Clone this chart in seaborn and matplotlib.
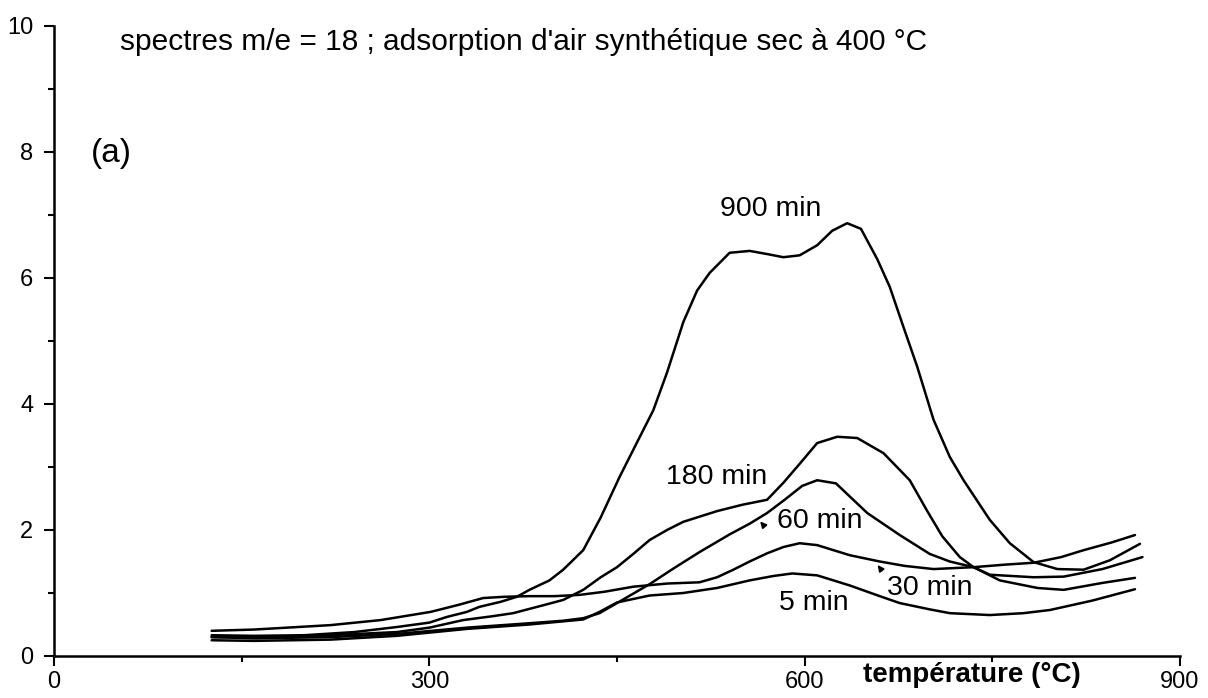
import numpy as np
import pandas as pd
import matplotlib
matplotlib.use('Agg')
import matplotlib.pyplot as plt
from matplotlib.ticker import MultipleLocator
import seaborn as sns

sns.set_theme(style='ticks')
plt.rcParams['font.family'] = ['Liberation Sans', 'DejaVu Sans']
plt.rcParams['text.color'] = 'black'

# spectres m/e = 18 (temperature en °C, signal)
t900 = [126, 160, 200, 240, 274, 300, 314, 330, 340, 357, 370, 380, 396, 407, 423, 437, 452, 467, 479, 490,
        503, 514, 524, 540, 556, 570, 583, 596, 610, 622, 634, 645, 658, 668, 679, 690, 703, 716, 727, 748,
        764, 783, 802, 823, 844, 868]
v900 = [0.33, 0.32, 0.33, 0.38, 0.46, 0.53, 0.62, 0.70, 0.78, 0.86, 0.94, 1.05, 1.2, 1.37, 1.68, 2.2, 2.84, 3.43, 3.9, 4.5,
        5.3, 5.8, 6.08, 6.40, 6.43, 6.38, 6.33, 6.36, 6.52, 6.75, 6.87, 6.78, 6.3, 5.86, 5.22, 4.59, 3.75, 3.16, 2.79, 2.16,
        1.79, 1.49, 1.38, 1.37, 1.52, 1.78]

t180 = [126, 160, 221, 274, 300, 327, 350, 367, 390, 407, 423, 437, 450, 463, 476, 490, 503, 530, 550, 570,
        583, 596, 610, 626, 642, 663, 684, 698, 710, 724, 735, 756, 786, 807, 838, 864]
v180 = [0.30, 0.30, 0.33, 0.38, 0.45, 0.57, 0.63, 0.68, 0.80, 0.89, 1.05, 1.25, 1.41, 1.62, 1.84, 2.0, 2.13, 2.3, 2.4, 2.48,
        2.75, 3.05, 3.38, 3.48, 3.46, 3.22, 2.79, 2.3, 1.9, 1.57, 1.41, 1.2, 1.08, 1.05, 1.16, 1.24]

t60 = [126, 160, 221, 274, 330, 380, 407, 423, 436, 450, 476, 496, 516, 540, 556, 570, 584, 598, 610, 625,
       650, 676, 700, 716, 735, 748, 783, 807, 838, 870]
v60 = [0.30, 0.28, 0.30, 0.35, 0.45, 0.52, 0.56, 0.60, 0.68, 0.84, 1.14, 1.4, 1.65, 1.93, 2.1, 2.27, 2.48, 2.7, 2.79, 2.74,
       2.27, 1.92, 1.62, 1.5, 1.41, 1.29, 1.25, 1.26, 1.38, 1.57]

t30 = [126, 160, 221, 261, 301, 323, 343, 360, 380, 400, 420, 440, 463, 490, 516, 530, 543, 556, 570, 583,
       596, 610, 636, 660, 680, 703, 735, 760, 783, 805, 823, 845, 864]
v30 = [0.40, 0.42, 0.49, 0.57, 0.70, 0.81, 0.92, 0.94, 0.95, 0.95, 0.97, 1.02, 1.1, 1.15, 1.17, 1.25, 1.37, 1.5, 1.63, 1.73,
       1.79, 1.76, 1.6, 1.5, 1.43, 1.38, 1.41, 1.45, 1.48, 1.57, 1.68, 1.8, 1.92]

t5 = [126, 160, 221, 274, 330, 380, 423, 436, 450, 476, 503, 530, 556, 575, 590, 610, 636, 660, 676, 700,
      716, 748, 775, 796, 830, 864]
v5 = [0.25, 0.24, 0.26, 0.32, 0.43, 0.50, 0.58, 0.70, 0.85, 0.96, 1.0, 1.08, 1.2, 1.27, 1.31, 1.28, 1.12, 0.95, 0.84, 0.74,
      0.68, 0.65, 0.68, 0.73, 0.88, 1.06]

courbes = {'900 min': (t900, v900), '180 min': (t180, v180), '60 min': (t60, v60),
           '30 min': (t30, v30), '5 min': (t5, v5)}

# labels des courbes (x, y)
etiquettes = {'900 min': (573, 7.1), '180 min': (530, 2.84), '60 min': (612, 2.14),
              '30 min': (700, 1.08), '5 min': (607, 0.84)}

df = pd.concat([pd.DataFrame({'temperature': t, 'signal': v, 'duree': k}) for k, (t, v) in courbes.items()])

fig = plt.figure(figsize=(12.08, 6.98), dpi=100)
ax = fig.add_axes([54/1208, 42/698, 1126/1208, 630/698])

sns.lineplot(data=df, x='temperature', y='signal', units='duree', estimator=None, sort=False,
             color='black', linewidth=1.8, ax=ax)

ax.set_xlim(0, 900)
ax.set_ylim(0, 10)
ax.set_xlabel('')
ax.set_ylabel('')
sns.despine(ax=ax)
for s in ['left', 'bottom']:
    ax.spines[s].set_linewidth(1.8)
    ax.spines[s].set_color('black')

ax.xaxis.set_major_locator(MultipleLocator(300))
ax.xaxis.set_minor_locator(MultipleLocator(150))
ax.yaxis.set_major_locator(MultipleLocator(2))
ax.yaxis.set_minor_locator(MultipleLocator(1))
ax.tick_params(which='major', length=7, width=1.5, color='black', labelcolor='black')
ax.tick_params(which='minor', length=4, width=1.5, color='black')
ax.tick_params(axis='x', which='major', pad=4, labelsize=17)
ax.tick_params(axis='y', which='major', pad=8, labelsize=17)

ax.text(53, 9.75, "spectres m/e = 18 ; adsorption d'air synthétique sec à 400 °C",
        fontsize=21.5, va='center', ha='left', color='black')
ax.text(46, 7.98, '(a)', fontsize=24, va='center', ha='center', color='black')
ax.text(734, -0.3, 'température (°C)', fontsize=20, fontweight='bold', color='black',
        va='center', ha='center', clip_on=False)

for nom, (x, y) in etiquettes.items():
    ax.text(x, y, nom, fontsize=20.5, va='center', ha='center', color='black')

# petites fleches
ax.annotate('', xy=(563, 2.17), xytext=(569, 2.03),
            arrowprops=dict(arrowstyle='-|>', color='black', lw=1.2, mutation_scale=9))
ax.annotate('', xy=(657, 1.48), xytext=(663, 1.32),
            arrowprops=dict(arrowstyle='-|>', color='black', lw=1.2, mutation_scale=9))

fig.savefig('out.png', dpi=100)
